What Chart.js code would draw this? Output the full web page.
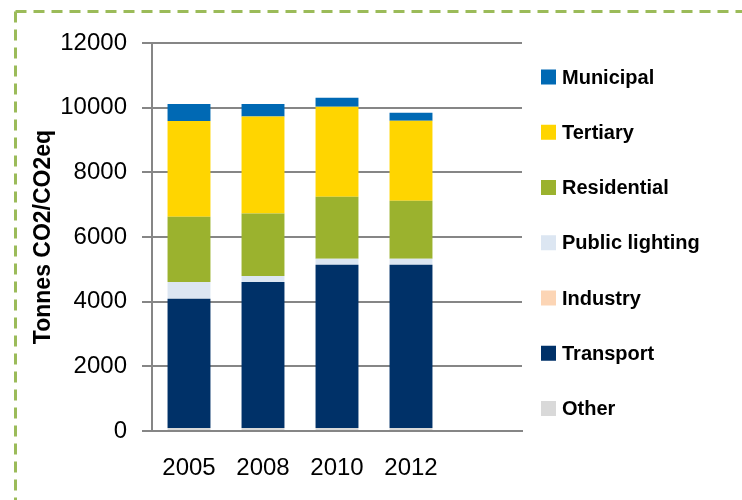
<!DOCTYPE html>
<html>
<head>
<meta charset="utf-8">
<script src="https://cdn.jsdelivr.net/npm/chart.js@4/dist/chart.umd.min.js"></script>
<style>
  html, body { margin: 0; padding: 0; background: #ffffff; }
  #wrap { position: relative; width: 742px; height: 500px; }
</style>
</head>
<body>
<div id="wrap"><canvas id="c"></canvas></div>
<script>
// ---- data ----
const categories = ['2005', '2008', '2010', '2012', ''];
const other = [90, 90, 90, 90];
const transport = [4000, 4520, 5050, 5050];
const industry = [0, 0, 0, 0];
const publicLighting = [520, 185, 185, 185];
const residential = [2020, 1930, 1920, 1795];
const tertiary = [2960, 3000, 2785, 2477];
const municipal = [525, 390, 280, 247];
const yAxisTitle = 'Tonnes CO2/CO2eq';
const yMin = 0, yMax = 12000, yStep = 2000;

const FONT = "'Liberation Sans', Arial, sans-serif";

const borderPlugin = {
  id: 'dashedFrame',
  beforeDraw(chart) {
    const ctx = chart.ctx;
    ctx.save();
    ctx.strokeStyle = '#9bbb59';
    ctx.lineWidth = 3;
    ctx.setLineDash([11, 7]);
    ctx.beginPath();
    ctx.moveTo(15.5, 11.5);
    ctx.lineTo(chart.width + 5, 11.5);
    ctx.moveTo(15.5, 11.5);
    ctx.lineTo(15.5, chart.height + 5);
    ctx.stroke();
    ctx.restore();
  }
};

const legendPlugin = {
  id: 'sideLegend',
  afterDraw(chart) {
    const ctx = chart.ctx;
    const ds = chart.data.datasets.slice().reverse();
    ctx.save();
    ctx.font = 'bold 20px ' + FONT;
    ctx.textBaseline = 'middle';
    ctx.textAlign = 'left';
    const x0 = 541, y0 = 77, step = 55.25, box = 15;
    ds.forEach((d, i) => {
      const cy = y0 + i * step;
      ctx.fillStyle = d.backgroundColor;
      ctx.fillRect(x0, cy - box / 2, box, box);
      ctx.fillStyle = '#000000';
      ctx.fillText(d.label, x0 + box + 6, cy + 1);
    });
    ctx.restore();
  }
};

new Chart(document.getElementById('c'), {
  type: 'bar',
  data: {
    labels: categories,
    datasets: [
      { label: 'Other', data: other, backgroundColor: '#d9d9d9' },
      { label: 'Transport', data: transport, backgroundColor: '#003168' },
      { label: 'Industry', data: industry, backgroundColor: '#fcd5b5' },
      { label: 'Public lighting', data: publicLighting, backgroundColor: '#dce6f2' },
      { label: 'Residential', data: residential, backgroundColor: '#9bb22e' },
      { label: 'Tertiary', data: tertiary, backgroundColor: '#ffd500' },
      { label: 'Municipal', data: municipal, backgroundColor: '#0069b4' }
    ]
  },
  options: {
    responsive: true,
    maintainAspectRatio: false,
    animation: false,
    datasets: { bar: { categoryPercentage: 1.0, barPercentage: 0.58, borderWidth: 0 } },
    layout: { padding: { left: 26, top: 43, right: 220, bottom: 19 } },
    plugins: {
      legend: { display: false },
      tooltip: { enabled: false }
    },
    scales: {
      x: {
        stacked: true,
        grid: { display: false },
        border: { display: true, color: '#868686', width: 2 },
        ticks: { color: '#000000', font: { family: FONT, size: 24 }, padding: 15, maxRotation: 0 },
        afterFit(s) { s.height = 50; }
      },
      y: {
        stacked: true,
        min: yMin,
        max: yMax,
        ticks: { stepSize: yStep, color: '#000000', font: { family: FONT, size: 24 }, padding: 15,
                 callback: (v) => String(v) },
        grid: { color: '#868686', lineWidth: 2, tickLength: 10 },
        border: { display: true, color: '#868686', width: 2 },
        title: { display: true, text: yAxisTitle, color: '#000000', font: { family: FONT, size: 23, weight: 'bold' }, padding: { top: 4, bottom: 4 } },
        afterFit(s) { s.width = 126; }
      }
    }
  },
  plugins: [borderPlugin, legendPlugin]
});
</script>
</body>
</html>
